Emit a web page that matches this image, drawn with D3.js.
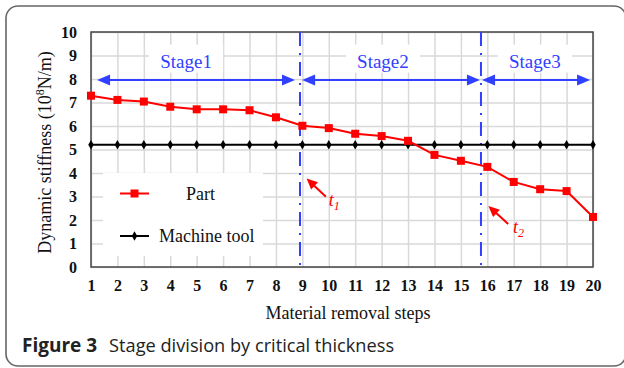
<!DOCTYPE html>
<html>
<head>
<meta charset="utf-8">
<script src="https://cdn.jsdelivr.net/npm/d3@7/dist/d3.min.js"></script>
<style>
  html, body { margin: 0; padding: 0; background: #fff; }
  svg { display: block; }
</style>
</head>
<body>
<svg id="chart" width="624" height="368"></svg>
<script>
// ---- data ----
const steps = [1,2,3,4,5,6,7,8,9,10,11,12,13,14,15,16,17,18,19,20];
const partValues = [7.29,7.11,7.04,6.82,6.71,6.71,6.67,6.37,6.01,5.91,5.67,5.57,5.37,4.77,4.52,4.26,3.62,3.31,3.23,2.13];
const machineValues = [5.2,5.2,5.2,5.2,5.2,5.2,5.2,5.2,5.2,5.2,5.2,5.2,5.2,5.2,5.2,5.2,5.2,5.2,5.2,5.2];
const yTicks = [0,1,2,3,4,5,6,7,8,9,10];
const xTicks = [1,2,3,4,5,6,7,8,9,10,11,12,13,14,15,16,17,18,19,20];
const dividers = [8.91, 15.76];
const stageNames = ["Stage1", "Stage2", "Stage3"];
const stageLabelX = [4.6, 12.05, 17.8];
const stageLabelY = [8.74, 8.74, 8.74];
const stageFrom = [1.23, 8.99, 15.8];
const stageTo = [8.72, 15.72, 19.89];
const stageArrowY = [7.96, 7.96, 7.96];
const annotNames = ["1", "2"];
const annotTip = [[9.16, 3.77], [16.04, 2.6]];
const annotTail = [[9.89, 2.99], [16.79, 1.83]];
const annotText = [[10.0, 2.78], [16.97, 1.62]];
const seriesNames = ["Part", "Machine tool"];

// ---- layout ----
const svg = d3.select("#chart");
const L = 91, R = 593, T = 32, B = 267;
const x = d3.scaleLinear().domain([1, 20]).range([L, R]);
const y = d3.scaleLinear().domain([0, 10]).range([B, T]);
const serif = "'Liberation Serif', 'Times New Roman', serif";
const sans = "'Open Sans', 'Noto Sans', sans-serif";
const RED = "#ff0000", BLUE = "#3040ff", GRID = "#d9d9d9";

// outer card frame
svg.append("rect").attr("x", 6).attr("y", 6).attr("width", 620).attr("height", 360)
  .attr("rx", 12).attr("fill", "none").attr("stroke", "#666").attr("stroke-width", 1.6);

// gridlines
const gx = svg.append("g").attr("transform", `translate(0,${B})`)
  .call(d3.axisBottom(x).tickValues(xTicks).tickSize(-(B - T)).tickFormat(""));
gx.select(".domain").remove();
gx.selectAll("line").attr("stroke", GRID).attr("stroke-width", 1.5);
const gy = svg.append("g").attr("transform", `translate(${L},0)`)
  .call(d3.axisLeft(y).tickValues(yTicks).tickSize(-(R - L)).tickFormat(""));
gy.select(".domain").remove();
gy.selectAll("line").attr("stroke", GRID).attr("stroke-width", 1.5);

// white label boxes (cover grid)
stageNames.forEach((s, i) => {
  svg.append("rect").attr("x", x(stageLabelX[i]) - 37).attr("y", y(stageLabelY[i]) - 17)
    .attr("width", 74).attr("height", 28).attr("fill", "#fff");
});
// legend box
svg.append("rect").attr("x", 103).attr("y", 173).attr("width", 160).attr("height", 83).attr("fill", "#fff");

// plot border
svg.append("rect").attr("x", L).attr("y", T).attr("width", R - L).attr("height", B - T)
  .attr("fill", "none").attr("stroke", "#444").attr("stroke-width", 1.5);

// tick labels
const ax = svg.append("g").attr("transform", `translate(0,${B})`)
  .call(d3.axisBottom(x).tickValues(xTicks).tickSize(0).tickPadding(13).tickFormat(d3.format("d")));
ax.select(".domain").remove();
ax.selectAll("text").attr("font-family", serif).attr("font-size", 16).attr("font-weight", "bold").attr("fill", "#111");
const ay = svg.append("g").attr("transform", `translate(${L},0)`)
  .call(d3.axisLeft(y).tickValues(yTicks).tickSize(0).tickPadding(14).tickFormat(d3.format("d")));
ay.select(".domain").remove();
ay.selectAll("text").attr("font-family", serif).attr("font-size", 16).attr("font-weight", "bold").attr("fill", "#111");

// axis titles
const yt = svg.append("text").attr("transform", `translate(51,${(T + B) / 2 + 3}) rotate(-90)`)
  .attr("text-anchor", "middle").attr("font-family", serif).attr("font-size", 18).attr("fill", "#111");
yt.append("tspan").text("Dynamic stiffness (10");
yt.append("tspan").attr("font-size", 12).attr("dy", -7).text("8");
yt.append("tspan").attr("dy", 7).text("N/m)");
svg.append("text").attr("x", 348).attr("y", 319).attr("text-anchor", "middle")
  .attr("font-family", serif).attr("font-size", 18).attr("fill", "#111").text("Material removal steps");

// dividers
dividers.forEach(d => {
  svg.append("line").attr("x1", x(d)).attr("x2", x(d)).attr("y1", T).attr("y2", B)
    .attr("stroke", BLUE).attr("stroke-width", 2).attr("stroke-dasharray", "14,7,2,7");
});

// stage arrows and labels
function arrowHead(g, tipX, tipY, angle, len, wid, color) {
  const ca = Math.cos(angle), sa = Math.sin(angle);
  const bx = tipX - ca * len, by = tipY - sa * len;
  const p = [[tipX, tipY], [bx - sa * wid / 2, by + ca * wid / 2], [bx + sa * wid / 2, by - ca * wid / 2]];
  g.append("polygon").attr("points", p.map(q => q.join(",")).join(" ")).attr("fill", color);
}
stageNames.forEach((s, i) => {
  const x1 = x(stageFrom[i]), x2 = x(stageTo[i]), yy = y(stageArrowY[i]);
  svg.append("line").attr("x1", x1 + 8).attr("x2", x2 - 8).attr("y1", yy).attr("y2", yy)
    .attr("stroke", BLUE).attr("stroke-width", 2);
  arrowHead(svg, x1, yy, Math.PI, 13, 11, BLUE);
  arrowHead(svg, x2, yy, 0, 13, 11, BLUE);
  svg.append("text").attr("x", x(stageLabelX[i])).attr("y", y(stageLabelY[i]) + 6)
    .attr("text-anchor", "middle").attr("font-family", serif).attr("font-size", 19)
    .attr("fill", BLUE).text(s);
});

// machine tool series
const line = d3.line().x((d, i) => x(steps[i])).y(d => y(d));
svg.append("path").datum(machineValues).attr("d", line).attr("fill", "none")
  .attr("stroke", "#000").attr("stroke-width", 2);
svg.selectAll(".dia").data(machineValues).enter().append("path")
  .attr("d", d3.symbol().type(d3.symbolDiamond).size(26))
  .attr("transform", (d, i) => `translate(${x(steps[i])},${y(d)})`).attr("fill", "#000");

// part series
svg.append("path").datum(partValues).attr("d", line).attr("fill", "none")
  .attr("stroke", RED).attr("stroke-width", 2);
svg.selectAll(".sq").data(partValues).enter().append("rect")
  .attr("x", (d, i) => x(steps[i]) - 4).attr("y", d => y(d) - 4)
  .attr("width", 8).attr("height", 8).attr("fill", RED);

// annotations t1, t2
annotNames.forEach((n, i) => {
  const tx = x(annotTip[i][0]), ty = y(annotTip[i][1]);
  const sx = x(annotTail[i][0]), sy = y(annotTail[i][1]);
  const ang = Math.atan2(ty - sy, tx - sx);
  svg.append("line").attr("x1", sx).attr("y1", sy)
    .attr("x2", tx - Math.cos(ang) * 8).attr("y2", ty - Math.sin(ang) * 8)
    .attr("stroke", RED).attr("stroke-width", 2);
  arrowHead(svg, tx, ty, ang, 11, 10, RED);
  const t = svg.append("text").attr("x", x(annotText[i][0])).attr("y", y(annotText[i][1]) + 4)
    .attr("font-family", serif).attr("font-size", 18).attr("font-style", "italic").attr("fill", RED);
  t.append("tspan").text("t");
  t.append("tspan").attr("font-size", 12).attr("dy", 4).text(n);
});

// legend
const lg = svg.append("g");
lg.append("line").attr("x1", 120).attr("x2", 149).attr("y1", 193.5).attr("y2", 193.5).attr("stroke", RED).attr("stroke-width", 2);
lg.append("rect").attr("x", 130.5).attr("y", 189.5).attr("width", 8).attr("height", 8).attr("fill", RED);
lg.append("text").attr("x", 186).attr("y", 199.5).attr("font-family", serif).attr("font-size", 18).attr("fill", "#111").text(seriesNames[0]);
lg.append("line").attr("x1", 120).attr("x2", 149).attr("y1", 236).attr("y2", 236).attr("stroke", "#000").attr("stroke-width", 2);
lg.append("path").attr("d", d3.symbol().type(d3.symbolDiamond).size(26)).attr("transform", "translate(134.5,236)").attr("fill", "#000");
lg.append("text").attr("x", 159).attr("y", 242).attr("font-family", serif).attr("font-size", 18).attr("fill", "#111").text(seriesNames[1]);

// caption
const cap = svg.append("text").attr("x", 22).attr("y", 352).attr("font-family", sans).attr("fill", "#222");
cap.append("tspan").attr("font-weight", "bold").attr("font-size", 19).text("Figure 3");
cap.append("tspan").attr("dx", 12).attr("font-size", 18.2).text("Stage division by critical thickness");
</script>
</body>
</html>
